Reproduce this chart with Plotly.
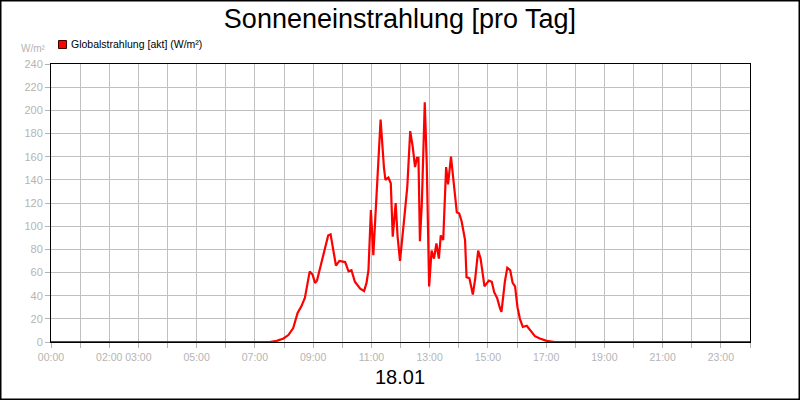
import plotly.graph_objects as go

# Globalstrahlung 18.01 (time of day, W/m²)
times = ["00:00", "07:30", "07:45", "07:59", "08:09", "08:19", "08:28", "08:36", "08:43", "08:53",
         "08:59", "09:04", "09:08", "09:13", "09:22", "09:31", "09:36", "09:47", "09:54", "10:06",
         "10:13", "10:19", "10:26", "10:37", "10:45", "10:50", "10:54", "10:59", "11:04", "11:11",
         "11:19", "11:26", "11:29", "11:35", "11:40", "11:44", "11:50", "11:54", "11:59", "12:08",
         "12:14", "12:20", "12:25", "12:30", "12:34", "12:37", "12:40", "12:44", "12:50", "12:54",
         "12:59", "13:04", "13:09", "13:14", "13:19", "13:23", "13:28", "13:34", "13:38", "13:44",
         "13:49", "13:56", "14:01", "14:06", "14:13", "14:16", "14:22", "14:29", "14:34", "14:40",
         "14:45", "14:53", "15:02", "15:08", "15:13", "15:19", "15:25", "15:28", "15:35", "15:40",
         "15:46", "15:51", "15:56", "16:01", "16:06", "16:12", "16:20", "16:27", "16:37", "16:47",
         "17:01", "17:18", "24:00"]
radiation = [0, 0, 1, 3, 6, 12, 25, 31, 38, 61,
             58, 51, 53, 62, 77, 92, 93, 66, 70, 69,
             61, 62, 52, 46, 44, 51, 62, 114, 75, 125,
             192, 150, 140, 142, 137, 91, 120, 91, 70, 108,
             134, 182, 169, 151, 159, 159, 87, 120, 207, 155,
             48, 79, 72, 85, 72, 92, 88, 151, 136, 160,
             140, 112, 111, 104, 88, 56, 55, 41, 55, 79,
             72, 48, 53, 52, 43, 38, 29, 26, 52, 64,
             62, 51, 48, 30, 20, 13, 14, 10, 5, 3,
             1, 0, 0]

hour_ticks = list(range(25))
hour_labels = ["00:00", "", "02:00", "03:00", "", "05:00", "", "07:00", "", "09:00", "", "11:00", "",
               "13:00", "", "15:00", "", "17:00", "", "19:00", "", "21:00", "", "23:00", ""]
y_ticks = list(range(0, 241, 20))
series_name = "Globalstrahlung [akt] (W/m²)"

hours = [int(t[:2]) + int(t[3:]) / 60 for t in times]

FONT = "Liberation Sans, Arial, sans-serif"
GREY = "#b4b4b4"

# plot area in pixels: x 51..750, y 64..342
L, R, T, B = 51, 50, 64, 58
PW, PH = 800 - L - R, 400 - T - B


def px(x):
    return (x - L) / PW


def py(y):
    return (400 - B - y) / PH


fig = go.Figure()
fig.add_trace(go.Scatter(x=hours, y=radiation, mode="lines", name=series_name,
                         line=dict(color="#ff0000", width=2.2),
                         showlegend=False))

fig.update_layout(
    width=800, height=400,
    margin=dict(l=L, r=R, t=T, b=B, autoexpand=False),
    paper_bgcolor="white", plot_bgcolor="white",
    font=dict(family=FONT, size=11, color=GREY),
    title=dict(text="Sonneneinstrahlung [pro Tag]", x=0.5, xanchor="center",
               y=1 - 19 / 400, yanchor="middle",
               font=dict(family=FONT, size=27, color="black")),
    showlegend=False,
    xaxis=dict(range=[0, 24], tickvals=hour_ticks, ticktext=hour_labels, tickangle=0,
               automargin=False,
               showgrid=True, gridcolor="#c0c0c0", gridwidth=1,
               showline=True, linecolor="black", linewidth=1, mirror=True,
               ticks="outside", ticklen=5, tickcolor=GREY,
               tickfont=dict(family=FONT, size=10.5, color=GREY), zeroline=False),
    yaxis=dict(range=[0, 240], tickvals=y_ticks, automargin=False,
               showgrid=True, gridcolor="#c0c0c0", gridwidth=1,
               showline=True, linecolor="black", linewidth=1, mirror=True,
               ticks="outside", ticklen=5, tickcolor=GREY,
               tickfont=dict(family=FONT, size=11, color=GREY), zeroline=False),
)

# legend: red square + series name
fig.add_shape(type="rect", xref="paper", yref="paper",
              x0=px(58.5), x1=px(66.5), y0=py(48.5), y1=py(40.5),
              line=dict(color="#400000", width=1), fillcolor="#ff0000")
fig.add_annotation(text=series_name, xref="paper", yref="paper",
                   x=px(69), y=py(44), xanchor="left", yanchor="middle",
                   showarrow=False, font=dict(family=FONT, size=10.5, color="black"))

fig.add_annotation(text="W/m²", xref="paper", yref="paper",
                   x=px(48), y=py(49), xanchor="right", yanchor="middle",
                   showarrow=False, font=dict(family=FONT, size=10, color=GREY))
fig.add_annotation(text="18.01", xref="paper", yref="paper",
                   x=px(400), y=py(377), xanchor="center", yanchor="middle",
                   showarrow=False, font=dict(family=FONT, size=20, color="black"))

# frame around the whole picture
fig.add_shape(type="rect", xref="paper", yref="paper",
              x0=px(0.75), x1=px(799.25), y0=py(399.25), y1=py(0.75),
              line=dict(color="black", width=1.5), fillcolor="rgba(0,0,0,0)")

# page body has a default 8px margin; drop it so the figure sits at the window corner
fig.write_html("out.html", config={"displayModeBar": False},
               post_script="document.body.style.margin='0';")
